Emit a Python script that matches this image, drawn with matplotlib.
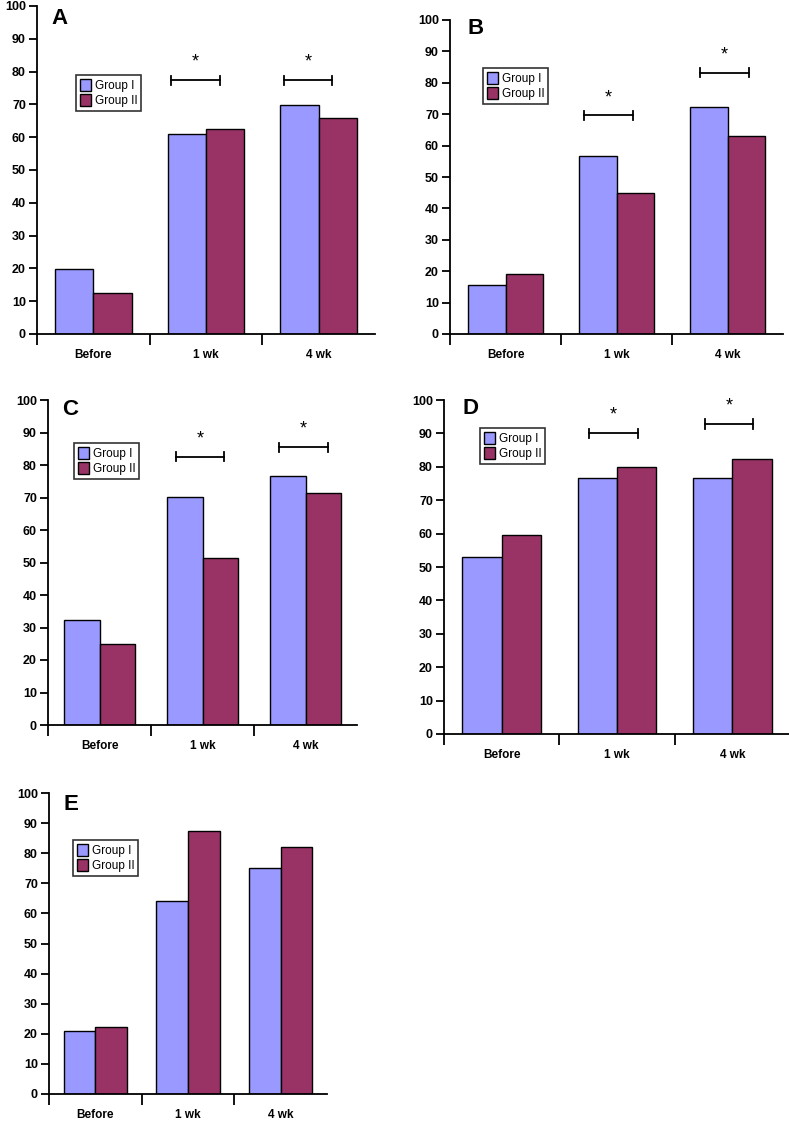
import matplotlib
matplotlib.use("Agg")
import matplotlib.pyplot as plt
from matplotlib.patches import Patch

plt.rcParams['font.family'] = ['Liberation Sans', 'DejaVu Sans']

# data
categories = ['Before', '1 wk', '4 wk']
series_names = ['Group I', 'Group II']

group1_A = [19.8, 60.9, 69.7]
group2_A = [12.5, 62.4, 65.9]
group1_B = [15.7, 56.6, 72.2]
group2_B = [19.1, 45.0, 63.1]
group1_C = [32.2, 70.3, 76.7]
group2_C = [24.9, 51.3, 71.3]
group1_D = [52.9, 76.5, 76.5]
group2_D = [59.5, 80.0, 82.3]
group1_E = [20.8, 64.0, 75.2]
group2_E = [22.4, 87.5, 82.1]

# significance brackets: category index -> bracket height
sig_A = {1: 77.4, 2: 77.4}
sig_B = {1: 69.6, 2: 83.2}
sig_C = {1: 82.6, 2: 85.5}
sig_D = {1: 90.0, 2: 92.8}
sig_E = {}

yticks = list(range(0, 101, 10))

BLUE = '#9999FF'
RED = '#993366'
W, H = 789, 1125

# panel layout in pixels: (left, top at 100, right, bottom at 0),
# legend box (left, top), label centre, bracket span offsets
panels = [
    dict(tag='A', g1=group1_A, g2=group2_A, sig=sig_A, box=(37, 6, 375, 334),
         leg=(76, 75), lab=(60, 18), span={1: (0.19, 0.62), 2: (0.19, 0.62)}),
    dict(tag='B', g1=group1_B, g2=group2_B, sig=sig_B, box=(450, 20, 783, 334),
         leg=(483, 68), lab=(476, 28), span={1: (0.21, 0.65), 2: (0.25, 0.69)}),
    dict(tag='C', g1=group1_C, g2=group2_C, sig=sig_C, box=(48, 400, 357, 725),
         leg=(74, 443), lab=(70, 409), span={1: (0.24, 0.71), 2: (0.24, 0.72)}),
    dict(tag='D', g1=group1_D, g2=group2_D, sig=sig_D, box=(444, 400, 790, 734),
         leg=(480, 428), lab=(471, 408), span={1: (0.26, 0.68), 2: (0.26, 0.68)}),
    dict(tag='E', g1=group1_E, g2=group2_E, sig=sig_E, box=(49, 793, 327, 1094),
         leg=(73, 840), lab=(71, 804), span={}),
]

fig = plt.figure(figsize=(W / 100, H / 100), dpi=100)

bar_w = 0.34
for p in panels:
    l, t, r, b = p['box']
    ax = fig.add_axes([l / W, 1 - b / H, (r - l) / W, (b - t) / H])
    ax.patch.set_alpha(0)
    centers = [i + 0.5 for i in range(len(categories))]
    ax.bar([c - bar_w / 2 for c in centers], p['g1'], width=bar_w, color=BLUE,
           edgecolor='black', linewidth=1.0, zorder=2)
    ax.bar([c + bar_w / 2 for c in centers], p['g2'], width=bar_w, color=RED,
           edgecolor='black', linewidth=1.0, zorder=2)

    ax.set_xlim(0, 3)
    ax.set_ylim(0, 100)
    for s in ['top', 'right']:
        ax.spines[s].set_visible(False)
    for s in ['left', 'bottom']:
        ax.spines[s].set_linewidth(1.3)
    ax.spines['left'].set_bounds(0, 100)

    ax.set_yticks(yticks)
    ax.tick_params(axis='y', direction='out', length=6, width=1.3, pad=2,
                   labelsize=9)
    ax.set_xticks([0, 1, 2])
    ax.set_xticklabels([])
    ax.tick_params(axis='x', which='major', direction='out', length=8, width=1.3)
    ax.set_xticks(centers, minor=True)
    ax.set_xticklabels(categories, minor=True)
    ax.tick_params(axis='x', which='minor', length=0, pad=11, labelsize=8.5)
    for lbl in ax.get_yticklabels() + ax.get_xticklabels(minor=True):
        lbl.set_fontweight('bold')

    # significance brackets
    for ci, yv in p['sig'].items():
        x0, x1 = p['span'][ci]
        ax.plot([ci + x0, ci + x1], [yv, yv], color='black', lw=1.3, zorder=3)
        ax.plot([ci + x0, ci + x0], [yv - 1.4, yv + 1.4], color='black', lw=1.3)
        ax.plot([ci + x1, ci + x1], [yv - 1.4, yv + 1.4], color='black', lw=1.3)
        ax.text(ci + (x0 + x1) / 2, yv + 5.5, '*', ha='center', va='center',
                fontsize=13)

    # panel label
    lx, ly = p['lab']
    fig.text(lx / W, 1 - ly / H, p['tag'], ha='center', va='center',
             fontsize=16, fontweight='bold')

    handles = [Patch(facecolor=BLUE, edgecolor='black', linewidth=1.0),
               Patch(facecolor=RED, edgecolor='black', linewidth=1.0)]
    gx, gy = p['leg']
    leg = fig.legend(handles, series_names, loc='upper left',
                     bbox_to_anchor=(gx / W, 1 - gy / H), fontsize=8.5,
                     frameon=True, fancybox=False, borderpad=0.3,
                     handlelength=1.0, handleheight=1.2, handletextpad=0.3,
                     labelspacing=0.2, borderaxespad=0)
    leg.get_frame().set_edgecolor('black')
    leg.get_frame().set_linewidth(1.2)

fig.savefig('out.png', dpi=100)
